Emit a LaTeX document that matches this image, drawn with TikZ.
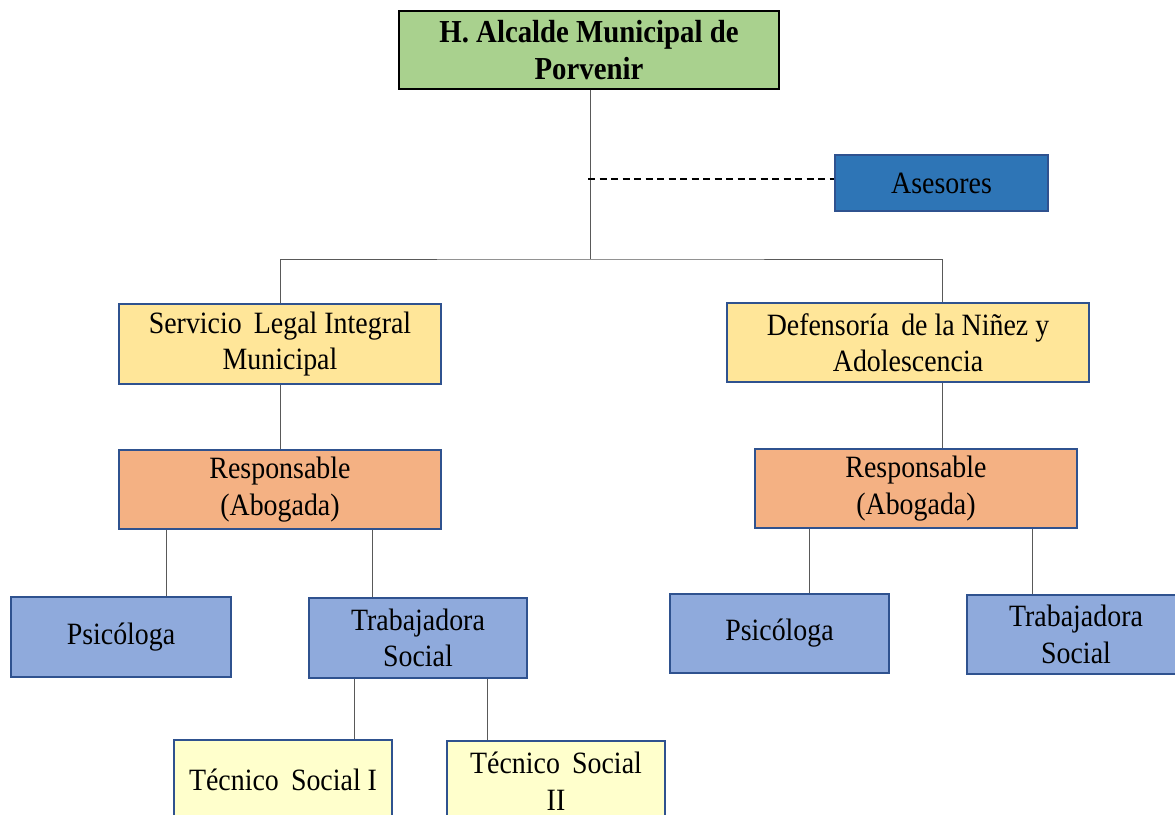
\documentclass[tikz,border=0pt]{standalone}
\usepackage{fontspec}
\setmainfont{Liberation Serif}[FakeStretch=0.9]
\definecolor{cgreen}{HTML}{A9D18E}
\definecolor{cases}{HTML}{2E75B6}
\definecolor{cbord}{HTML}{2F528F}
\definecolor{cyel}{HTML}{FFE699}
\definecolor{corg}{HTML}{F4B183}
\definecolor{cblue}{HTML}{8FAADC}
\definecolor{clyel}{HTML}{FFFFCC}
\definecolor{cline}{HTML}{595959}
\tikzset{
  orgbox/.style={draw=cbord, line width=1.1pt, inner sep=0pt, align=center,
    font=\fontsize{31}{36.5}\selectfont},
  conn/.style={draw=cline, line width=0.9pt}
}
\begin{document}
\begin{tikzpicture}[x=1pt,y=-1pt]
\useasboundingbox (0,0) rectangle (1175,814);
\clip (0,0) rectangle (1175,814);
\fill[white] (0,0) rectangle (1175,814);
% nodes
\node[orgbox, draw=black, line width=1.4pt, fill=cgreen, minimum width=380pt, minimum height=78pt,
  font=\fontsize{32}{37}\selectfont\bfseries] (top) at (589,50) {H. Alcalde Municipal de\\Porvenir};
\node[orgbox, fill=cases, minimum width=213pt, minimum height=56pt] (ases) at (941.5,183) {Asesores};
\node[orgbox, fill=cyel, minimum width=322pt, minimum height=80pt] (serv) at (280,344) {Servicio\, Legal Integral\\Municipal};
\node[orgbox, fill=cyel, minimum width=362pt, minimum height=79pt] (def) at (908,342.5) {Defensoría\, de la Niñez y\\Adolescencia};
\node[orgbox, fill=corg, minimum width=322pt, minimum height=79pt] (respL) at (280,489.5) {Responsable\\(Abogada)};
\node[orgbox, fill=corg, minimum width=322pt, minimum height=79pt] (respR) at (916,488.5) {Responsable\\(Abogada)};
\node[orgbox, fill=cblue, minimum width=220pt, minimum height=80pt] (psiL) at (121,637) {Psicóloga};
\node[orgbox, fill=cblue, minimum width=218pt, minimum height=80pt] (trabL) at (418,638) {Trabajadora\\Social};
\node[orgbox, fill=cblue, minimum width=219pt, minimum height=79pt] (psiR) at (779.5,633.5) {Psicóloga};
\node[orgbox, fill=cblue, minimum width=218pt, minimum height=79pt] (trabR) at (1076,634.5) {Trabajadora\\Social};
\node[orgbox, fill=clyel, minimum width=218pt, minimum height=80pt] (tec1) at (283,780) {Técnico\, Social I};
\node[orgbox, fill=clyel, minimum width=218pt, minimum height=80pt] (tec2) at (556,781) {Técnico\, Social\\II};
% connectors
\coordinate (bus) at (590,259);
\coordinate (dj) at (588,179);
\draw[conn] (top.south -| bus) -- (bus);
\draw[conn] (serv.north) |- (bus) -| ([xshift=34pt]def.north);
\draw[black, line width=1.1pt, dash pattern=on 7pt off 4.5pt] (dj) -- (dj -| ases.west);
\draw[conn] (serv.south) -- (respL.north);
\draw[conn] ([xshift=34pt]def.south) -- ([xshift=34pt]def.south |- respR.north);
\draw[conn] ([xshift=45pt]psiL.north) -- ([xshift=45pt]psiL.north |- respL.south);
\draw[conn] ([xshift=-46pt]trabL.north) -- ([xshift=-46pt]trabL.north |- respL.south);
\draw[conn] ([xshift=29.5pt]psiR.north) -- ([xshift=29.5pt]psiR.north |- respR.south);
\draw[conn] ([xshift=-44pt]trabR.north) -- ([xshift=-44pt]trabR.north |- respR.south);
\draw[conn] ([xshift=71pt]tec1.north) -- ([xshift=71pt]tec1.north |- trabL.south);
\draw[conn] ([xshift=-69pt]tec2.north) -- ([xshift=-69pt]tec2.north |- trabL.south);
\end{tikzpicture}
\end{document}
